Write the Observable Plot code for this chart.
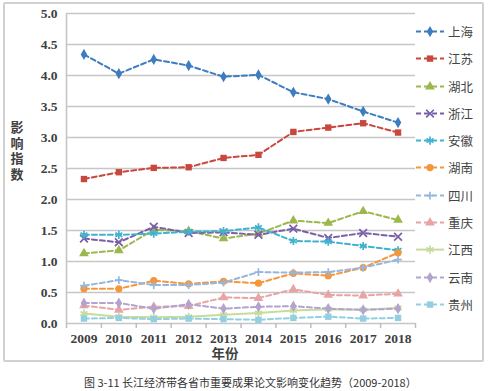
<!DOCTYPE html>
<html><head><meta charset="utf-8">
<script src="https://cdn.jsdelivr.net/npm/d3@7"></script>
<script src="https://cdn.jsdelivr.net/npm/@observablehq/plot@0.6"></script>
<style>
body{margin:0;background:#fff;}
#wrap{position:relative;width:488px;height:391px;overflow:hidden;font-family:"Noto Sans CJK SC",sans-serif;}
#frame{position:absolute;left:3px;top:2px;width:477px;height:356px;border:2px solid #d0d0d0;border-radius:2px;pointer-events:none;}
#chart{position:absolute;left:0;top:0;}
#ylab{position:absolute;left:9px;top:119px;width:16px;color:#404040;text-align:center;}
#ylab div{height:15.5px;line-height:15.5px;font-size:13px;font-weight:bold;}
#xlab{position:absolute;left:195px;width:60px;top:346px;font-size:13.5px;font-weight:bold;color:#404040;text-align:center;line-height:14px;}
#caption{position:absolute;left:84px;top:374px;font-size:11px;color:#333;white-space:nowrap;line-height:16px;}
#legend{position:absolute;left:414px;top:18px;width:72px;}
.row{position:relative;height:27.3px;width:72px;}
.row svg{position:absolute;left:0;top:0;}
.row span{position:absolute;left:34px;top:0;line-height:27.3px;font-size:12.5px;color:#444;white-space:nowrap;}
</style>
</head><body>
<div id="wrap">
  <div id="chart"></div>
  <div id="ylab"><div>影</div><div>响</div><div>指</div><div>数</div></div>
  <div id="xlab">年份</div>
  <div id="legend"></div>
  <div id="frame"></div>
  <div id="caption">图 3-11 长江经济带各省市重要成果论文影响变化趋势（2009-2018）</div>
</div>
<script>
const years = [2009, 2010, 2011, 2012, 2013, 2014, 2015, 2016, 2017, 2018];
const yTicks = [0, 0.5, 1, 1.5, 2, 2.5, 3, 3.5, 4, 4.5, 5];
const provinces = ["上海", "江苏", "湖北", "浙江", "安徽", "湖南", "四川", "重庆", "江西", "云南", "贵州"];

const shanghai  = [4.34, 4.03, 4.26, 4.16, 3.98, 4.01, 3.73, 3.62, 3.42, 3.24];
const jiangsu   = [2.33, 2.44, 2.51, 2.52, 2.67, 2.72, 3.09, 3.16, 3.23, 3.08];
const hubei     = [1.13, 1.18, 1.51, 1.49, 1.37, 1.45, 1.66, 1.62, 1.81, 1.67];
const zhejiang  = [1.37, 1.31, 1.56, 1.46, 1.47, 1.43, 1.53, 1.38, 1.46, 1.40];
const anhui     = [1.43, 1.43, 1.45, 1.48, 1.49, 1.55, 1.33, 1.32, 1.25, 1.18];
const hunan     = [0.56, 0.56, 0.69, 0.64, 0.68, 0.65, 0.81, 0.77, 0.90, 1.14];
const sichuan   = [0.61, 0.70, 0.62, 0.62, 0.66, 0.83, 0.82, 0.83, 0.90, 1.03];
const chongqing = [0.29, 0.22, 0.27, 0.28, 0.42, 0.41, 0.55, 0.46, 0.45, 0.48];
const jiangxi   = [0.16, 0.11, 0.10, 0.11, 0.14, 0.17, 0.21, 0.23, 0.22, 0.25];
const yunnan    = [0.33, 0.33, 0.24, 0.31, 0.24, 0.27, 0.28, 0.24, 0.22, 0.24];
const guizhou   = [0.08, 0.09, 0.07, 0.08, 0.07, 0.06, 0.09, 0.11, 0.08, 0.09];

const values = [shanghai, jiangsu, hubei, zhejiang, anhui, hunan, sichuan, chongqing, jiangxi, yunnan, guizhou];
const colors = ["#3d7cbf", "#c8483f", "#9bb84a", "#7a5ea8", "#3fb3cf", "#f5963a", "#96b6df", "#e8a4a4", "#c6dc9c", "#b3a3cf", "#93cfe2"];
const symbols = ["diamond", "square", "triangle", "times", "asterisk", "circle", "plus", "triangle", "asterisk", "diamond", "square"];
const dashes = ["5,3", "5,3", "5,3", "5,3", "5,3", "5,3", "5,3", "5,3", null, "5,3", "5,3"];
const strokeSyms = new Set(["times", "asterisk", "plus"]);
const symR = {diamond: 3.4, square: 3.6, triangle: 3.6, times: 3.6, asterisk: 3.8, circle: 3.6, plus: 2.6};

const series = provinces.map((name, i) => ({
  name, color: colors[i], symbol: symbols[i], dash: dashes[i],
  data: years.map((yr, j) => ({year: yr, value: values[i][j]}))
}));

const bounds = years.map(y => y - 0.5).concat([years[years.length - 1] + 0.5]);

const marks = [
  Plot.ruleY(yTicks, {stroke: "#c6c6c6", strokeWidth: 1.6}),
  Plot.ruleX([bounds[0]], {stroke: "#c6c6c6", strokeWidth: 1.6}),
  Plot.axisY({ticks: yTicks, tickFormat: d3.format(".1f"), tickSize: 0, tickPadding: 9, label: null}),
  Plot.axisX({ticks: years, tickFormat: "d", tickSize: 0, tickPadding: 10, label: null}),
  Plot.axisX({ticks: bounds, tickFormat: () => "", tickSize: 5, stroke: "#bdbdbd", strokeWidth: 1.5, label: null})
];
for (const s of series) {
  marks.push(Plot.line(s.data, {x: "year", y: "value", stroke: s.color, strokeWidth: 2, strokeDasharray: s.dash || undefined}));
  const isStroke = strokeSyms.has(s.symbol);
  marks.push(Plot.dot(s.data, {
    x: "year", y: "value", symbol: () => s.symbol, r: symR[s.symbol],
    fill: isStroke ? "none" : s.color, stroke: isStroke ? s.color : "none", strokeWidth: isStroke ? 1.7 : 0
  }));
}

const chart = Plot.plot({
  width: 488, height: 368,
  marginLeft: 66, marginRight: 73, marginTop: 13, marginBottom: 45,
  x: {type: "linear", domain: [bounds[0], bounds[bounds.length - 1]], label: null},
  y: {domain: [0, 5], label: null},
  style: {background: "transparent", color: "#404040", fontFamily: "'Liberation Serif', serif", fontWeight: "bold", fontSize: "13.5px"},
  marks
});
document.getElementById("chart").appendChild(chart);

// legend
const d3sym = {diamond: d3.symbolDiamond, square: d3.symbolSquare, triangle: d3.symbolTriangle, times: d3.symbolTimes,
  asterisk: d3.symbolAsterisk, circle: d3.symbolCircle, plus: d3.symbolPlus};
const legend = d3.select("#legend");
series.forEach(s => {
  const row = legend.append("div").attr("class", "row");
  const svg = row.append("svg").attr("width", 32).attr("height", 27);
  svg.append("line").attr("x1", 2).attr("x2", 30).attr("y1", 13.6).attr("y2", 13.6)
    .attr("stroke", s.color).attr("stroke-width", 2).attr("stroke-dasharray", s.dash || null);
  const isStroke = strokeSyms.has(s.symbol);
  const r = symR[s.symbol];
  svg.append("path").attr("transform", "translate(16,13.6)")
    .attr("d", d3.symbol(d3sym[s.symbol], Math.PI * r * r)())
    .attr("fill", isStroke ? "none" : s.color).attr("stroke", isStroke ? s.color : "none").attr("stroke-width", isStroke ? 1.7 : 0);
  row.append("span").text(s.name);
});
</script>
</body></html>
